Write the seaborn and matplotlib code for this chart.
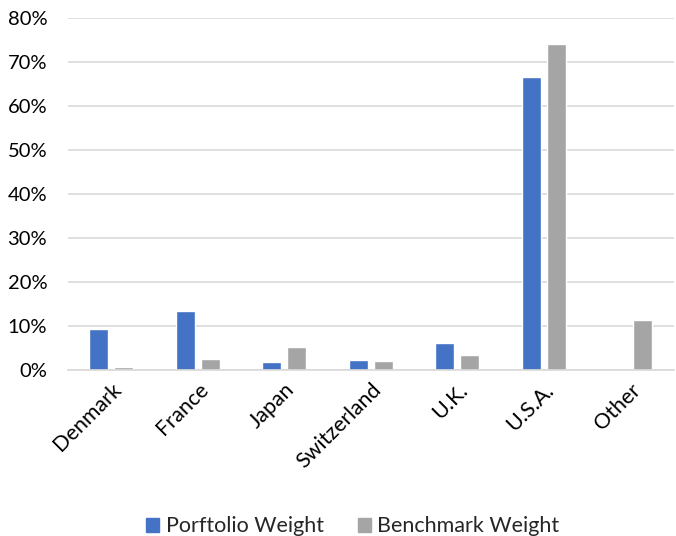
import matplotlib
import numpy as np
import pandas as pd

matplotlib.use("Agg")

import matplotlib.pyplot as plt
import seaborn as sns
from matplotlib.ticker import PercentFormatter

countries = ["Denmark", "France", "Japan", "Switzerland", "U.K.", "U.S.A.", "Other"]
portfolio = [9.3, 13.4, 1.7, 2.3, 6.2, 66.7, 0.0]
benchmark = [0.6, 2.5, 5.3, 2.1, 3.3, 74.2, 11.4]
series = ["Porftolio Weight", "Benchmark Weight"]
colors = ["#4472C4", "#A5A5A5"]


def main() -> None:
    sns.set_theme(style="white")
    plt.rcParams["font.family"] = ["Lato", "DejaVu Sans"]

    df = pd.DataFrame({
        "country": countries * 2,
        "weight": portfolio + benchmark,
        "series": [series[0]] * len(countries) + [series[1]] * len(countries),
    })

    fig = plt.figure(figsize=(6.76, 5.36), dpi=100)
    ax = fig.add_axes([0.1006, 0.31, 0.896, 0.656])

    sns.barplot(data=df, x="country", y="weight", hue="series",
                palette=colors, saturation=1, width=0.577, gap=0.24,
                ax=ax, legend=False)

    ax.set_ylim(0, 80)
    ax.set_yticks(np.arange(0, 81, 10))
    ax.yaxis.set_major_formatter(PercentFormatter(decimals=0))
    ax.grid(axis="y", color="#d9d9d9", linewidth=1.2)
    ax.set_axisbelow(True)
    for s in ["top", "right", "left"]:
        ax.spines[s].set_visible(False)
    ax.spines["bottom"].set_color("#d9d9d9")
    ax.spines["bottom"].set_linewidth(1.2)
    ax.set_xlabel("")
    ax.set_ylabel("")
    ax.tick_params(axis="y", length=0, labelsize=14.5, colors="#000000", pad=15)
    ax.tick_params(axis="x", length=0, labelsize=15.5, colors="#000000", pad=7)
    plt.setp(ax.get_xticklabels(), rotation=45, ha="right", rotation_mode="anchor")

    handles = [plt.Rectangle((0, 0), 1, 1, color=c) for c in colors]
    fig.legend(handles, series, loc="lower center", ncol=2, frameon=False,
               bbox_to_anchor=(0.522, -0.037), fontsize=15.5, handlelength=0.6,
               handleheight=0.6, columnspacing=1.6, handletextpad=0.3)

    fig.savefig("out.png", dpi=100)
    plt.close(fig)


if __name__ == "__main__":
    main()
